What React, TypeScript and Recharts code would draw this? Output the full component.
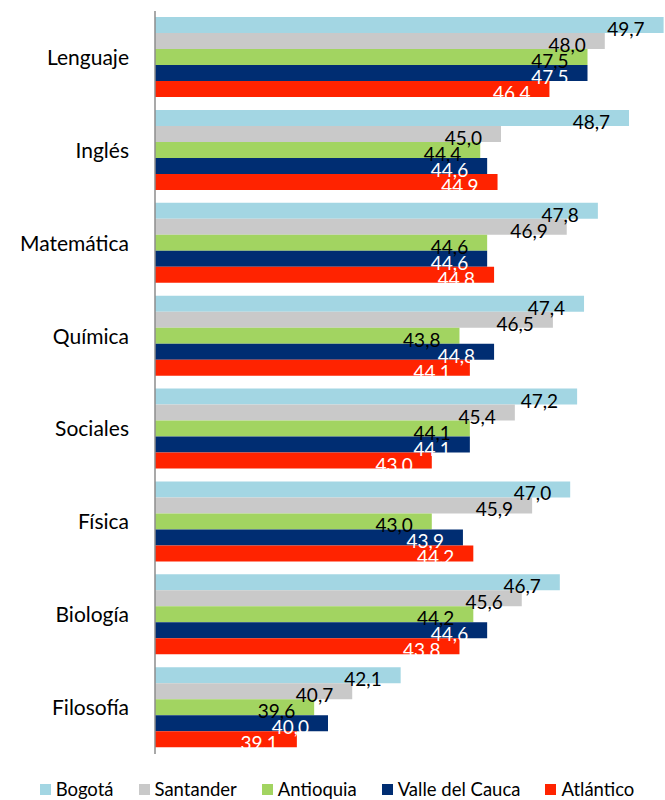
import { Bar, BarChart, LabelList, Legend, XAxis, YAxis } from "recharts";

const subjects = ["Lenguaje", "Inglés", "Matemática", "Química", "Sociales", "Física", "Biología", "Filosofía"];
const bogota = [49.7, 48.7, 47.8, 47.4, 47.2, 47.0, 46.7, 42.1];
const santander = [48.0, 45.0, 46.9, 46.5, 45.4, 45.9, 45.6, 40.7];
const antioquia = [47.5, 44.4, 44.6, 43.8, 44.1, 43.0, 44.2, 39.6];
const valle = [47.5, 44.6, 44.6, 44.8, 44.1, 43.9, 44.6, 40.0];
const atlantico = [46.4, 44.9, 44.8, 44.1, 43.0, 44.2, 43.8, 39.1];

const FONT = "Lato, 'Open Sans', sans-serif";

const series = [
  { key: "bogota", name: "Bogotá", color: "#A3D6E3", label: "#000000" },
  { key: "santander", name: "Santander", color: "#C9C9C9", label: "#000000" },
  { key: "antioquia", name: "Antioquia", color: "#A2D461", label: "#000000" },
  { key: "valle", name: "Valle del Cauca", color: "#002D72", label: "#ffffff" },
  { key: "atlantico", name: "Atlántico", color: "#FF2300", label: "#ffffff" },
];

const data = subjects.map((subject, i) => ({
  subject,
  bogota: bogota[i],
  santander: santander[i],
  antioquia: antioquia[i],
  valle: valle[i],
  atlantico: atlantico[i],
}));

const fmt = (v: number) => v.toFixed(1).replace(".", ",");

function valueLabel(color: string) {
  return (props: any) => {
    const { x, y, width, height, value } = props;
    return (
      <text
        x={Number(x) + Number(width) - 19}
        y={Number(y) + Number(height) + 3}
        textAnchor="end"
        fill={color}
        fontSize={19}
        fontFamily={FONT}
      >
        {fmt(Number(value))}
      </text>
    );
  };
}

function LegendBox() {
  return (
    <div style={{ display: "flex", justifyContent: "center", gap: 25, fontFamily: FONT, fontSize: 18.5, color: "#000" }}>
      {series.map((s) => (
        <span key={s.key} style={{ display: "flex", alignItems: "center", gap: 5 }}>
          <span style={{ width: 11, height: 11, background: s.color, display: "inline-block" }} />
          {s.name}
        </span>
      ))}
    </div>
  );
}

export default function App() {
  return (
    <div style={{ position: "absolute", left: 0, top: 0, width: 665, height: 800, overflow: "hidden", background: "#fff" }}>
      <BarChart
        width={674}
        height={800}
        data={data}
        layout="vertical"
        barCategoryGap={6}
        barGap={0}
        margin={{ top: 11, right: 0, left: 0, bottom: 21 }}
      >
        <XAxis type="number" domain={[35, 50]} hide />
        <YAxis
          type="category"
          dataKey="subject"
          width={155}
          tickLine={false}
          axisLine={{ stroke: "#8c8c8c", strokeWidth: 1.5 }}
          tickMargin={20}
          tick={{ fill: "#000", fontSize: 21, fontFamily: FONT }}
        />
        <Legend verticalAlign="bottom" content={() => <LegendBox />} wrapperStyle={{ height: 25, bottom: -3 }} />
        {series.map((s) => (
          <Bar key={s.key} dataKey={s.key} name={s.name} fill={s.color} isAnimationActive={false}>
            <LabelList dataKey={s.key} content={valueLabel(s.label)} />
          </Bar>
        ))}
      </BarChart>
    </div>
  );
}
